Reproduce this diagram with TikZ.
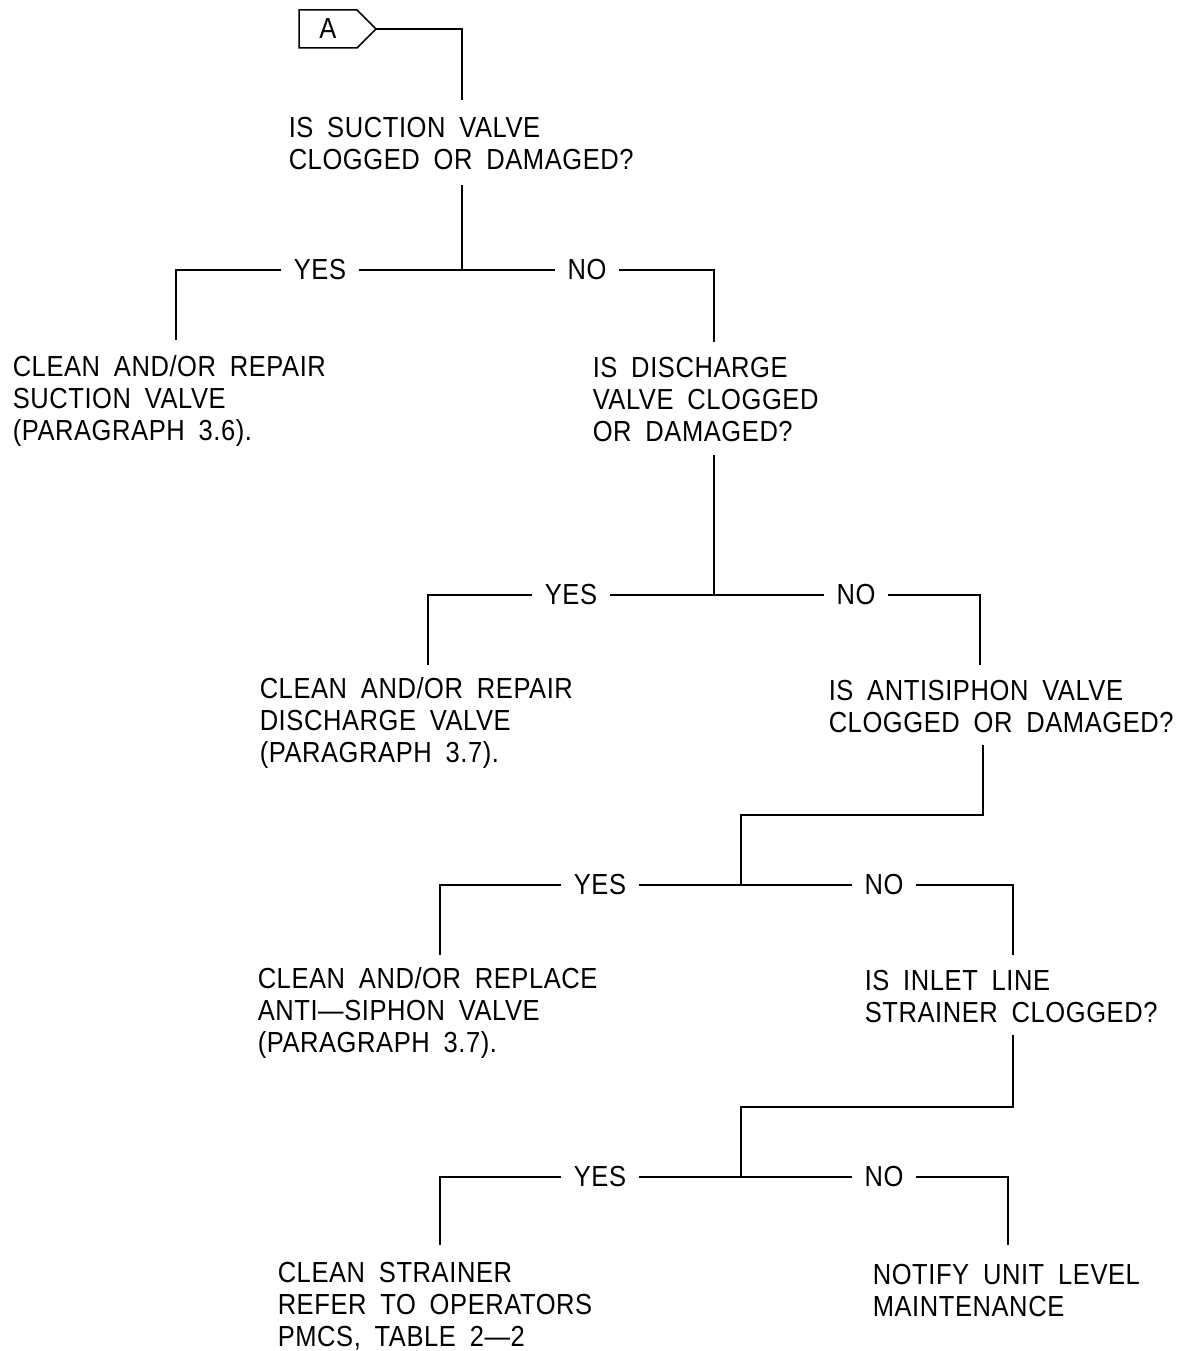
\documentclass[tikz,border=0pt]{standalone}
\usepackage{fontspec}
\setmainfont[FakeStretch=0.88,WordSpace=1.8,LetterSpace=2]{Liberation Sans}
\begin{document}
\begin{tikzpicture}[x=1pt,y=-1pt,line width=1.5pt,
  txt/.style={anchor=base west,align=left,inner sep=0pt,font=\fontsize{29}{32}\selectfont},
  lbl/.style={inner xsep=12pt,inner ysep=0pt,font=\fontsize{29}{32}\selectfont}]
\useasboundingbox (0,0) rectangle (1185,1351);
% entry symbol
\draw (299,10) -- (357,10) -- (376,29) -- (357,48) -- (299,48) -- cycle;
\node[lbl,inner xsep=0pt] (A) at (328,29) {A};
\coordinate (Atip) at (376,29);
% Q1 (base anchor = last line baseline)
\node[txt] (q1) at (288,170) {IS SUCTION VALVE\\CLOGGED OR DAMAGED?};
\coordinate (q1in) at (462,100);
\coordinate (q1out) at (462,185);
\coordinate (j1) at (462,270);
\draw (Atip) -| (q1in);
\draw (q1out) -- (j1);
\node[lbl] (yes1) at (320,270) {YES};
\node[lbl] (no1) at (587,270) {NO};
\coordinate (c1L) at (176,340);
\coordinate (c1R) at (714,342);
\draw (c1L) |- (yes1.west);
\draw (yes1.east) -- (no1.west);
\draw (no1.east) -| (c1R);
\node[txt] (r1) at (12,440) {CLEAN AND/OR REPAIR\\SUCTION VALVE\\(PARAGRAPH 3.6).};
% Q2
\node[txt] (q2) at (592,441) {IS DISCHARGE\\VALVE CLOGGED\\OR DAMAGED?};
\coordinate (q2out) at (714,455);
\coordinate (j2) at (714,595);
\draw (q2out) -- (j2);
\node[lbl] (yes2) at (571,595) {YES};
\node[lbl] (no2) at (856,595) {NO};
\coordinate (c2L) at (428,665);
\coordinate (c2R) at (980,665);
\draw (c2L) |- (yes2.west);
\draw (yes2.east) -- (no2.west);
\draw (no2.east) -| (c2R);
\node[txt] (r2) at (259,762) {CLEAN AND/OR REPAIR\\DISCHARGE VALVE\\(PARAGRAPH 3.7).};
% Q3
\node[txt] (q3) at (828,732) {IS ANTISIPHON VALVE\\CLOGGED OR DAMAGED?};
\coordinate (q3out) at (983,745);
\coordinate (b3) at (741,815);
\coordinate (j3) at (741,885);
\draw (q3out) |- (b3) -- (j3);
\node[lbl] (yes3) at (600,885) {YES};
\node[lbl] (no3) at (884,885) {NO};
\coordinate (c3L) at (440,955);
\coordinate (c3R) at (1013,955);
\draw (c3L) |- (yes3.west);
\draw (yes3.east) -- (no3.west);
\draw (no3.east) -| (c3R);
\node[txt] (r3) at (257,1052) {CLEAN AND/OR REPLACE\\ANTI---SIPHON VALVE\\(PARAGRAPH 3.7).};
% Q4
\node[txt] (q4) at (864,1022) {IS INLET LINE\\STRAINER CLOGGED?};
\coordinate (q4out) at (1013,1035);
\coordinate (b4) at (741,1107);
\coordinate (j4) at (741,1177);
\draw (q4out) |- (b4) -- (j4);
\node[lbl] (yes4) at (600,1177) {YES};
\node[lbl] (no4) at (884,1177) {NO};
\coordinate (c4L) at (440,1245);
\coordinate (c4R) at (1008,1245);
\draw (c4L) |- (yes4.west);
\draw (yes4.east) -- (no4.west);
\draw (no4.east) -| (c4R);
\node[txt] (r4) at (277,1346) {CLEAN STRAINER\\REFER TO OPERATORS\\PMCS, TABLE 2---2};
\node[txt] (r5) at (872,1316) {NOTIFY UNIT LEVEL\\MAINTENANCE};
\end{tikzpicture}
\end{document}
